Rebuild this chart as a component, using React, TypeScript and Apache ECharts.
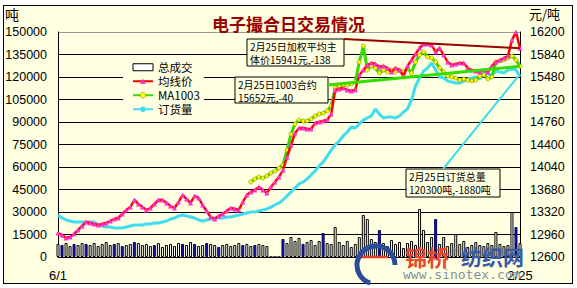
import React, { useEffect, useRef } from "react";
import * as echarts from "echarts";

const firstDate = "6/1";
const lastDate = "2/25";

// 均线价 (元/吨, right axis)
const avgPrice = [
  12984, 12952, 12904, 12920, 12968, 13032, 13096, 13160, 13144, 13128,
  13112, 13128, 13144, 13176, 13208, 13224, 13288, 13352, 13400, 13512,
  13448, 13400, 13352, 13384, 13448, 13512, 13512, 13464, 13416, 13384,
  13480, 13592, 13528, 13464, 13576, 13544, 13432, 13336, 13240, 13208,
  13256, 13288, 13336, 13384, 13368, 13352, 13480, 13592, 13640, 13672,
  13720, 13672, 13624, 13720, 13800, 13880, 13992, 14200, 14392, 14584,
  14664, 14664, 14648, 14648, 14744, 14760, 14776, 14792, 14888, 15272,
  15288, 15304, 15272, 15256, 15272, 15512, 15592, 15672, 15704, 15688,
  15640, 15656, 15624, 15560, 15624, 15592, 15496, 15656, 15752, 15848,
  15944, 16008, 16008, 15992, 15880, 15944, 15832, 15720, 15672, 15688,
  15704, 15704, 15624, 15592, 15576, 15560, 15592, 15560, 15656, 15720,
  15752, 15784, 15816, 16072, 16200, 15941,
];

// MA1003 (元/吨, right axis), starts at day index ma1003Start
const ma1003Start = 48;
const ma1003Values = [
  13800, 13848, 13880, 13864, 13896, 13944, 13976, 14024, 14072, 14312,
  14568, 14728, 14792, 14776, 14776, 14808, 14856, 14888, 14904, 14936,
  15016, 15304, 15336, 15352, 15352, 15368, 15400, 15720, 15976, 15592,
  15656, 15624, 15544, 15592, 15560, 15592, 15560, 15592, 15560, 15624,
  15544, 15720, 15832, 15880, 15800, 15784, 15720, 15624, 15560, 15496,
  15480, 15464, 15432, 15448, 15432, 15416, 15432, 15496, 15512, 15448,
  15480, 15720, 15736, 15752, 15784, 15816, 15752, 15652,
];

// 订货量 (吨, left axis)
const orders = [
  28000, 26000, 24700, 24000, 23300, 23300, 23300, 23300, 23300, 23300,
  21300, 20700, 20000, 20000, 19300, 19300, 19300, 20000, 20700, 21300,
  21300, 21300, 22000, 22000, 22700, 22700, 23300, 24000, 25300, 26000,
  27300, 28000, 27300, 26700, 26000, 24700, 24000, 24700, 25300, 26000,
  26000, 26000, 26700, 26700, 27300, 28000, 28700, 29300, 30000, 30000,
  30700, 31300, 32000, 33300, 34700, 36000, 38000, 40700, 43300, 46000,
  48700, 50000, 52000, 54700, 57300, 60700, 63300, 67300, 71300, 74700,
  77300, 80700, 83300, 86700, 86000, 88700, 91300, 92700, 94000, 98700,
  95300, 92700, 93300, 93300, 92700, 94000, 96700, 98700, 104700, 114000,
  119300, 124000, 126000, 129300, 124700, 120000, 119300, 117300, 116700, 116000,
  116000, 117300, 118700, 119300, 120000, 118700, 122700, 122000, 121300, 124000,
  123300, 122700, 124700, 125300, 124700, 120300,
];

// 总成交 (吨, left axis)
const volume = [
  8700, 8000, 9300, 7300, 8700, 8000, 9300, 8700, 8000, 9300,
  7300, 8700, 10000, 8000, 8700, 9300, 7300, 8000, 8700, 10000,
  9300, 8000, 8700, 7300, 8000, 9300, 6700, 8000, 8700, 7300,
  9300, 8700, 8000, 10000, 8700, 7300, 8000, 9300, 8700, 8000,
  6700, 8000, 8700, 7300, 8000, 9300, 8000, 8700, 7300, 8000,
  8700, 8000, 7300, 0, 0, 0, 12000, 9300, 13300, 10700,
  12700, 8700, 10000, 11300, 8000, 10700, 16000, 9300, 8700, 20000,
  10000, 8000, 10700, 6700, 8700, 13300, 28000, 25300, 12000, 10000,
  18000, 9300, 7300, 11300, 8700, 10000, 6000, 9300, 10700, 8000,
  32000, 18000, 10000, 13300, 25300, 8700, 13300, 7300, 9300, 15300,
  8700, 10700, 6700, 8000, 10000, 8000, 7300, 9300, 8000, 16700,
  8700, 7300, 8000, 30000, 20000, 9300,
];
const blueBars = [1, 4, 7, 14, 16, 19, 24, 31, 34, 37, 40, 46, 49, 56, 61, 66, 80, 94, 114];

const seriesNames = ["总成交", "均线价", "MA1003", "订货量"];
const BG = "#FFFFE1";
const NUM_FONT = "Liberation Sans, Arial, sans-serif";
const CJK_FONT = "Noto Sans CJK SC, sans-serif";

export default function App() {
  const ref = useRef<HTMLDivElement>(null);

  useEffect(() => {
    document.body.style.margin = "0";
    const n = avgPrice.length;
    const categories = avgPrice.map((_, i) =>
      i === 0 ? firstDate : i === n - 1 ? lastDate : String(i)
    );
    const maData: (number | null)[] = [];
    for (let i = 0; i < ma1003Start; i++) maData.push(null);
    ma1003Values.forEach((v) => maData.push(v));
    const barData = volume.map((v, i) =>
      blueBars.includes(i)
        ? { value: v, itemStyle: { color: "#1A1AA8", borderColor: "#000066" } }
        : v
    );

    const chart = echarts.init(ref.current!, null, { renderer: "svg" });
    const lineColors: string[] = [];
    for (let i = 0; i < 10; i++) lineColors.push("#000");
    lineColors.push("#999");

    chart.setOption({
      animation: false,
      backgroundColor: "transparent",
      textStyle: { fontFamily: NUM_FONT },
      title: {
        text: "电子撮合日交易情况",
        left: "center",
        top: 10,
        textStyle: { fontSize: 17, fontWeight: "bold", color: "#990000", fontFamily: CJK_FONT },
      },
      grid: { left: 58, right: 57, top: 32, bottom: 31 },
      legend: {
        orient: "vertical",
        left: 123,
        top: 58,
        padding: [3, 4, 3, 9],
        itemGap: 1.5,
        itemWidth: 20,
        itemHeight: 7,
        backgroundColor: BG,
        data: [
          { name: seriesNames[0], icon: "rect", itemStyle: { color: "#fff", borderColor: "#000", borderWidth: 1 } },
          { name: seriesNames[1], itemStyle: { color: "#FF33CC" } },
          { name: seriesNames[2], itemStyle: { color: "#FFFF00", borderColor: "#777700", borderWidth: 0.5 } },
          { name: seriesNames[3] },
        ],
        textStyle: { fontSize: 11.5, lineHeight: 12.5, color: "#000", fontFamily: CJK_FONT },
      },
      xAxis: {
        type: "category",
        data: categories,
        boundaryGap: false,
        axisLine: { lineStyle: { color: "#000", width: 1 } },
        axisTick: { show: false },
        axisLabel: {
          interval: (index: number) => index === 0 || index === n - 1,
          margin: 12,
          fontSize: 13,
          color: "#000",
          fontFamily: NUM_FONT,
        },
        splitLine: { show: false },
      },
      yAxis: [
        {
          type: "value",
          min: 0,
          max: 150000,
          interval: 15000,
          axisLine: { show: true, lineStyle: { color: "#000" } },
          axisTick: { show: false },
          axisLabel: {
            margin: 11,
            fontSize: 12.5,
            color: "#000",
            fontFamily: NUM_FONT,
            formatter: (v: number) => String(v),
          },
          splitLine: { show: true, lineStyle: { color: lineColors, width: 1 } },
        },
        {
          type: "value",
          min: 12600,
          max: 16200,
          interval: 360,
          position: "right",
          axisLine: { show: true, lineStyle: { color: "#000" } },
          axisTick: { show: false },
          axisLabel: {
            margin: 10,
            fontSize: 12.5,
            color: "#000",
            fontFamily: NUM_FONT,
            formatter: (v: number) => String(v),
          },
          splitLine: { show: false },
        },
      ],
      series: [
        {
          name: seriesNames[0],
          type: "bar",
          yAxisIndex: 0,
          data: barData,
          barWidth: 3,
          itemStyle: { color: "#fff", borderColor: "#000", borderWidth: 1 },
          z: 2,
        },
        {
          name: seriesNames[1],
          type: "line",
          yAxisIndex: 1,
          data: avgPrice,
          symbol: "triangle",
          symbolSize: 5,
          showAllSymbol: true,
          lineStyle: { color: "#FF0000", width: 2.5 },
          itemStyle: { color: "#FF33CC" },
          z: 6,
        },
        {
          name: seriesNames[2],
          type: "line",
          yAxisIndex: 1,
          data: maData,
          symbol: "circle",
          symbolSize: 4,
          showAllSymbol: true,
          lineStyle: { color: "#33DD00", width: 3 },
          itemStyle: { color: "#FFFF00", borderColor: "#777700", borderWidth: 0.5 },
          z: 5,
        },
        {
          name: seriesNames[3],
          type: "line",
          yAxisIndex: 0,
          data: orders,
          symbol: "none",
          lineStyle: { color: "#40DCF0", width: 3 },
          itemStyle: { color: "#40DCF0" },
          z: 4,
        },
      ],
    });

    const pRed = chart.convertToPixel({ seriesIndex: 1 }, [n - 1, avgPrice[n - 1]]) as number[];
    const pMa = chart.convertToPixel({ seriesIndex: 2 }, [n - 1, ma1003Values[ma1003Values.length - 1]]) as number[];
    const pOrd = chart.convertToPixel({ seriesIndex: 3 }, [n - 1, orders[n - 1]]) as number[];

    const boxText = (x: number, y: number, w: number, h: number, text: string) => ({
      type: "group",
      x,
      y,
      z: 100,
      children: [
        { type: "rect", shape: { x: 0, y: 0, width: w, height: h }, style: { fill: BG, stroke: "#000", lineWidth: 1 } },
        {
          type: "text",
          x: 3,
          y: 1.5,
          style: { text, fontSize: 10, lineHeight: 12.5, fill: "#000", fontFamily: CJK_FONT, align: "left", verticalAlign: "top" },
        },
      ],
    });

    chart.setOption({
      graphic: [
        { type: "text", x: 5, y: 7, z: 100, style: { text: "吨", fontSize: 14, fill: "#000", fontFamily: CJK_FONT, verticalAlign: "top" } },
        { type: "text", x: 529, y: 7, z: 100, style: { text: "元/吨", fontSize: 13, fill: "#000", fontFamily: CJK_FONT, verticalAlign: "top" } },
        { type: "line", z: 90, shape: { x1: 344, y1: 39, x2: pRed[0], y2: pRed[1] }, style: { stroke: "#990000", lineWidth: 2 } },
        { type: "line", z: 90, shape: { x1: 328, y1: 85, x2: pMa[0], y2: pMa[1] }, style: { stroke: "#33DD00", lineWidth: 3 } },
        { type: "line", z: 90, shape: { x1: 443, y1: 169, x2: pOrd[0] - 2, y2: pOrd[1] }, style: { stroke: "#40DCF0", lineWidth: 2 } },
        boxText(247, 39, 97, 27, "2月25日加权平均主\n体价15941元,-138"),
        boxText(235, 77, 93, 26, "2月25日1003合约\n15652元,-40"),
        boxText(406, 169, 94, 28, "2月25日订货总量\n120300吨,-1880吨"),
        {
          type: "arc",
          z: 110,
          shape: { cx: 376, cy: 265, r: 19, startAngle: Math.PI * 0.6, endAngle: Math.PI * 2, clockwise: true },
          style: { stroke: "#2B4C9B", lineWidth: 5, fill: "none" },
        },
        { type: "line", z: 111, shape: { x1: 362, y1: 257, x2: 388, y2: 257 }, style: { stroke: "#E0402A", lineWidth: 2.5 } },
        { type: "text", x: 405, y: 245, z: 110, style: { text: "锦桥", fontSize: 22, fontWeight: "bold", fill: "#E8472E", fontFamily: CJK_FONT, verticalAlign: "top" } },
        { type: "text", x: 451, y: 247, z: 110, style: { text: "®", fontSize: 9, fill: "#888", fontFamily: NUM_FONT, verticalAlign: "top" } },
        { type: "text", x: 461, y: 245, z: 110, style: { text: "纺织网", fontSize: 21, fontWeight: "bold", fill: "#3A5BA6", fontFamily: CJK_FONT, verticalAlign: "top" } },
        { type: "text", x: 403, y: 268, z: 110, style: { text: "www.sinotex.com", fontSize: 13, fill: "#7F90A3", fontFamily: "DejaVu Sans Mono, monospace", verticalAlign: "top" } },
      ],
    });

    return () => chart.dispose();
  }, []);

  return (
    <div style={{ position: "relative", width: 577, height: 288, background: "#fff" }}>
      <div
        style={{
          position: "absolute",
          left: 3,
          top: 5,
          width: 570,
          height: 279,
          boxSizing: "border-box",
          border: "1px solid #000",
          background: BG,
        }}
      />
      <div ref={ref} style={{ position: "absolute", left: 0, top: 0, width: 577, height: 288 }} />
    </div>
  );
}
